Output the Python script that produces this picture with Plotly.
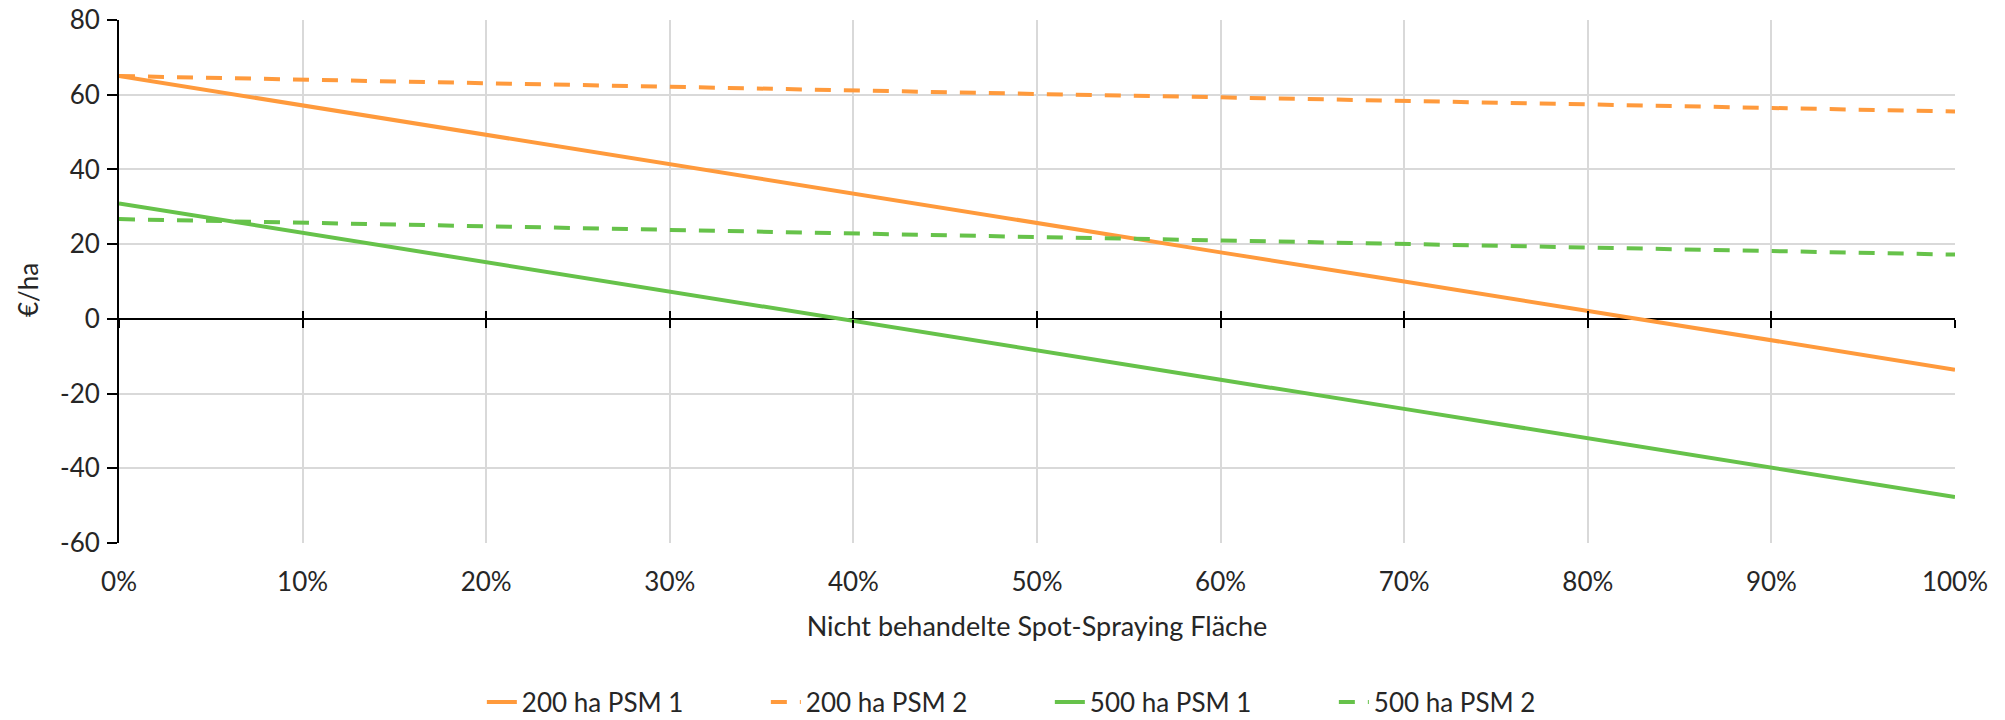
import plotly.graph_objects as go

# Data
x_share = [0.0, 0.1, 0.2, 0.3, 0.4, 0.5, 0.6, 0.7, 0.8, 0.9, 1.0]
x_tick_labels = ["0%", "10%", "20%", "30%", "40%", "50%", "60%", "70%", "80%", "90%", "100%"]
y_tick_vals = [-60, -40, -20, 0, 20, 40, 60, 80]
y_tick_labels = ["-60", "-40", "-20", "0", "20", "40", "60", "80"]

ha200_psm1 = [65.0, 57.1, 49.3, 41.4, 33.6, 25.7, 17.8, 10.0, 2.1, -5.7, -13.6]
ha200_psm2 = [65.0, 64.0, 63.1, 62.1, 61.2, 60.2, 59.3, 58.3, 57.4, 56.4, 55.5]
ha500_psm1 = [30.9, 23.0, 15.2, 7.3, -0.5, -8.4, -16.3, -24.1, -32.0, -39.8, -47.7]
ha500_psm2 = [26.7, 25.7, 24.8, 23.8, 22.9, 21.9, 21.0, 20.0, 19.1, 18.1, 17.2]

series_names = ["200 ha PSM 1", "200 ha PSM 2", "500 ha PSM 1", "500 ha PSM 2"]

ORANGE = "#FF9A3C"
GREEN = "#66C24A"
FONT = "Lato"
TXT = "#262626"
GRID = "#D9D9D9"
FS = 26

fig = go.Figure()
specs = [
    (ha200_psm1, ORANGE, "solid"),
    (ha200_psm2, ORANGE, "16px,13px"),
    (ha500_psm1, GREEN, "solid"),
    (ha500_psm2, GREEN, "16px,13px"),
]
for name, (vals, col, dash) in zip(series_names, specs):
    fig.add_trace(go.Scatter(x=x_share, y=vals, name=name, mode="lines",
                             line=dict(color=col, width=4, dash=dash)))

# dummy traces so the crossing tick axes render
for ax in ["x2", "x3"]:
    fig.add_trace(go.Scatter(x=[None], y=[None], xaxis=ax, yaxis="y",
                             showlegend=False, hoverinfo="skip"))

zero_pos = (0 - (-60)) / (80 - (-60))

fig.update_layout(
    width=2005, height=720,
    margin=dict(l=119, r=50, t=20, b=177),
    paper_bgcolor="white", plot_bgcolor="white",
    font=dict(family=FONT, size=FS, color=TXT),
    showlegend=True,
    legend=dict(orientation="h", xref="paper", yref="container",
                x=0.507, xanchor="center", y=(720 - 702) / 720, yanchor="middle",
                font=dict(family=FONT, size=FS, color=TXT), entrywidth=239,
                bgcolor="rgba(0,0,0,0)"),
    xaxis=dict(range=[0, 1], tickvals=x_share, ticktext=x_tick_labels,
               showgrid=True, gridcolor=GRID, gridwidth=1.5,
               ticks="outside", ticklen=16, tickcolor="rgba(0,0,0,0)",
               showline=False, zeroline=False, automargin=False,
               tickfont=dict(family=FONT, size=FS, color=TXT),
               title=dict(text="Nicht behandelte Spot-Spraying Fläche",
                          font=dict(family=FONT, size=27, color=TXT), standoff=20)),
    xaxis2=dict(overlaying="x", anchor="free", position=zero_pos, range=[0, 1],
                tickvals=x_share, showticklabels=False, ticks="outside", ticklen=8,
                tickwidth=2, tickcolor="black", showgrid=False, zeroline=False,
                showline=False, automargin=False),
    xaxis3=dict(overlaying="x", anchor="free", position=zero_pos, range=[0, 1],
                tickvals=x_share, showticklabels=False, ticks="inside", ticklen=8,
                tickwidth=2, tickcolor="black", showgrid=False, zeroline=False,
                showline=False, automargin=False),
    yaxis=dict(range=[-60, 80], tickvals=y_tick_vals, ticktext=y_tick_labels,
               showgrid=True, gridcolor=GRID, gridwidth=1.5,
               ticks="outside", ticklen=10, tickwidth=2, tickcolor="black",
               showline=True, linecolor="black", linewidth=2,
               zeroline=True, zerolinecolor="black", zerolinewidth=2,
               ticklabelstandoff=2, automargin=False,
               tickfont=dict(family=FONT, size=FS, color=TXT)),
)

fig.add_annotation(text="€/ha", xref="paper", yref="paper",
                   x=(28 - 119) / 1836, y=(543 - 290) / 523,
                   xanchor="center", yanchor="middle", textangle=-90,
                   showarrow=False, font=dict(family=FONT, size=FS, color=TXT))

fig.write_html("out.html")
